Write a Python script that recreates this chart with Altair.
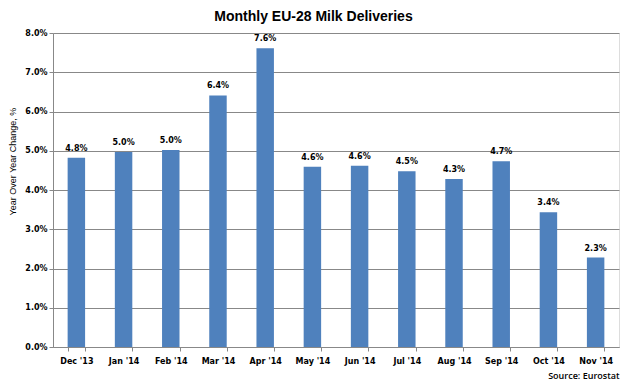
import altair as alt
import pandas as pd

months = ["Dec '13", "Jan '14", "Feb '14", "Mar '14", "Apr '14", "May '14",
          "Jun '14", "Jul '14", "Aug '14", "Sep '14", "Oct '14", "Nov '14"]
values = [4.82, 4.97, 5.02, 6.41, 7.61, 4.59, 4.62, 4.48, 4.28, 4.73, 3.43, 2.28]

df = pd.DataFrame({"month": months, "value": [v / 100 for v in values]})

FONT = "DejaVu Sans"

base = alt.Chart(df).encode(
    x=alt.X("month:N", sort=months,
            scale=alt.Scale(paddingInner=0.63, paddingOuter=0.31),
            axis=alt.Axis(title="Source: Eurostat", titleAlign="right", titleAnchor="end",
                          titleFont="Open Sans", titleFontSize=9, titleFontWeight=600,
                          titleColor="#000", titleBaseline="bottom", titleY=33,
                          labelAngle=0, labelFont=FONT, labelFontSize=8,
                          labelFontWeight="bold", labelColor="#000", labelPadding=6,
                          tickBand="extent", tickColor="#888", tickSize=4,
                          domainColor="#888", grid=False,
                          minExtent=31, maxExtent=31)),
    y=alt.Y("value:Q",
            scale=alt.Scale(domain=[0, 0.08], nice=False),
            axis=alt.Axis(format=".1%", values=[i / 100 for i in range(9)],
                          title="Year Over Year Change, %", titleFontWeight="normal",
                          titleFont="Liberation Sans", titleFontSize=9, titleColor="#000",
                          titleX=-36, titleY=128,
                          labelFont=FONT, labelFontSize=8,
                          labelFontWeight="bold", labelColor="#000", labelPadding=2,
                          tickColor="#888", tickSize=4, domainColor="#888",
                          gridColor="#888", gridWidth=1,
                          minExtent=44, maxExtent=44)),
)

bars = base.mark_bar(color="#4F81BD")
labels = base.mark_text(dy=-9, font=FONT, fontSize=8,
                        fontWeight="bold", color="#000").encode(
    text=alt.Text("value:Q", format=".1%"))

chart = (bars + labels).properties(
    width=612, height=372,
    padding={"left": 0, "top": 2, "right": 1, "bottom": 0},
    autosize=alt.AutoSizeParams(type="fit", contains="padding"),
    title=alt.TitleParams("Monthly EU-28 Milk Deliveries", font="Liberation Sans",
                          fontSize=14, fontWeight="bold", color="#000", anchor="middle",
                          frame="bounds", offset=5),
).configure_view(stroke=None).configure(background="white")

chart.save("out.html", embed_options={"renderer": "svg", "actions": False})
